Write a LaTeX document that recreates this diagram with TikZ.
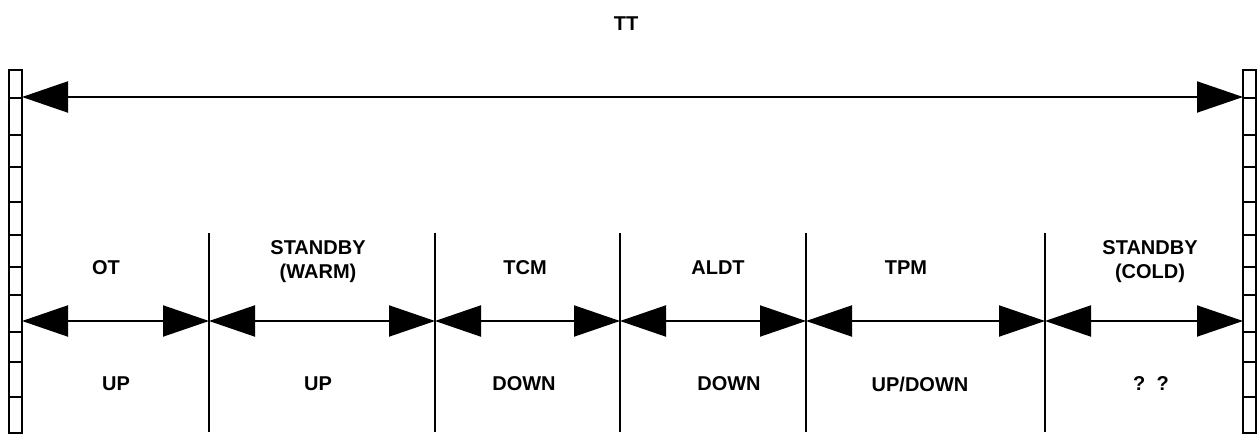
\documentclass[tikz,border=0pt]{standalone}
\usepackage{fontspec}
\setmainfont{Liberation Sans}
\usetikzlibrary{arrows.meta}
\begin{document}
\begin{tikzpicture}[x=1pt,y=-1pt,
  lab/.style={font=\fontsize{20}{24}\selectfont\bfseries, align=center, inner sep=0pt},
  dim/.style={line width=2pt, {Triangle[length=46pt,width=31pt]}-{Triangle[length=46pt,width=31pt]}},
  divider/.style={line width=1.4pt},
  bar/.style={line width=1.5pt}]
\useasboundingbox (0,0) rectangle (1257,435);
% side bars
\foreach \xa/\xb/\nm in {9/22/L,1243/1256/R}{
  \draw[bar] (\xa,70) rectangle (\xb,433);
  \foreach \yy in {98,135,167,202,235,267,295,332,362,397}
    \draw[bar] (\xa,\yy) -- (\xb,\yy);
}
% coordinates
\coordinate (tl) at (22,97);
\coordinate (tr) at (1243,97);
\coordinate (m0) at (22,321);
\coordinate (m1) at (209,321);
\coordinate (m2) at (435,321);
\coordinate (m3) at (620,321);
\coordinate (m4) at (806,321);
\coordinate (m5) at (1045,321);
\coordinate (m6) at (1243,321);
% dividers
\foreach \x/\n in {209/1,435/2,620/3,806/4,1045/5}{
  \coordinate (d\n t) at (\x,233);
  \coordinate (d\n b) at (\x,432);
  \draw[divider] (d\n t) -- (d\n b);
}
% arrows
\draw[dim] (tl) -- (tr);
\draw[dim] (m0) -- (m1);
\draw[dim] (m1) -- (m2);
\draw[dim] (m2) -- (m3);
\draw[dim] (m3) -- (m4);
\draw[dim] (m4) -- (m5);
\draw[dim] (m5) -- (m6);
% labels
\node[lab] (tt) at (626,24) {TT};
\node[lab] (ot) at (106,268) {OT};
\node[lab] (sw) at (318,262) {STANDBY\\(WARM)};
\node[lab] (tcm) at (525,268) {TCM};
\node[lab] (aldt) at (718,268) {ALDT};
\node[lab] (tpm) at (906,268) {TPM};
\node[lab] (sc) at (1150,262) {STANDBY\\(COLD)};
\node[lab] (u1) at (116,384) {UP};
\node[lab] (u2) at (318,384) {UP};
\node[lab] (d1) at (524,384) {DOWN};
\node[lab] (d2) at (729,384) {DOWN};
\node[lab] (ud) at (920,384) {UP/DOWN};
\node[lab] (qq) at (1151,384) {?\ \ ?};
\end{tikzpicture}
\end{document}
